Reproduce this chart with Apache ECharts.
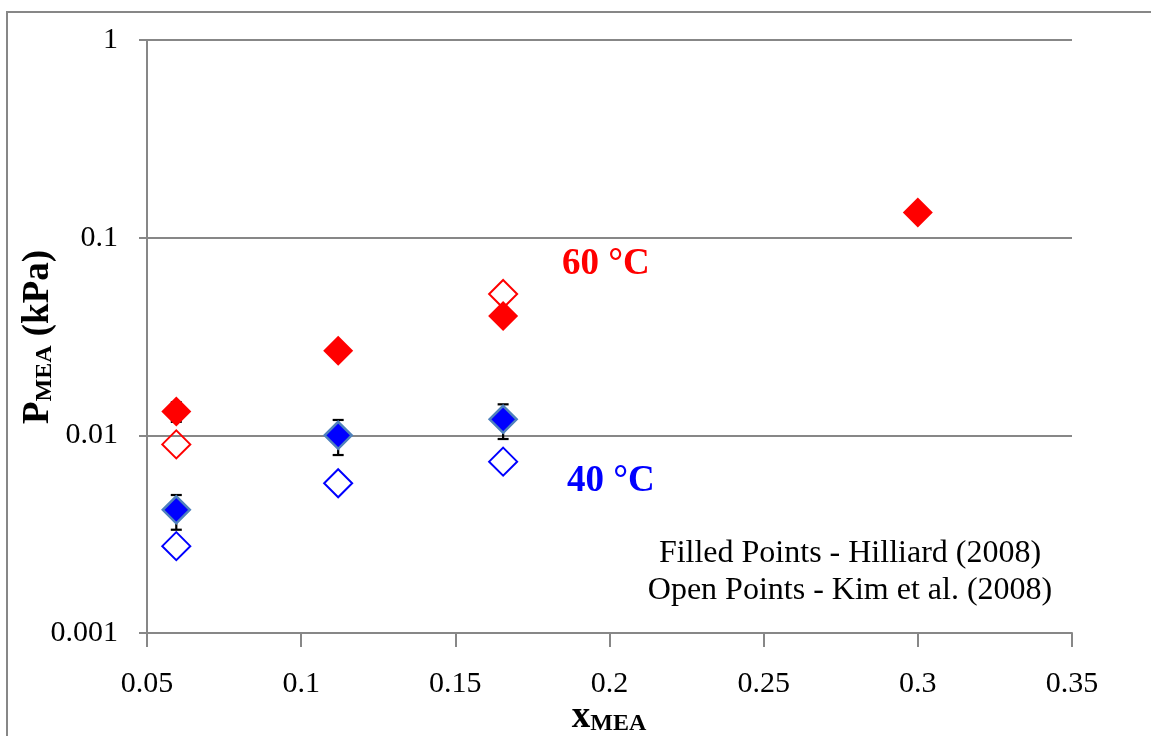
<!DOCTYPE html>
<html>
<head>
<meta charset="utf-8">
<script src="https://cdn.jsdelivr.net/npm/echarts@6/dist/echarts.min.js"></script>
<style>html,body{margin:0;padding:0;background:#fff}#c{width:1151px;height:736px}</style>
</head>
<body>
<div id="c"></div>
<script>
// ---- data ----
const xTicks = [0.05, 0.1, 0.15, 0.2, 0.25, 0.3, 0.35];
const yTicks = [0.001, 0.01, 0.1, 1];
const xRedFilled = [0.0595, 0.112, 0.1655, 0.300];
const yRedFilled = [0.0132, 0.0268, 0.0402, 0.134];
const xRedOpen = [0.0595, 0.1655];
const yRedOpen = [0.0090, 0.0519];
const xBlueFilled = [0.0595, 0.112, 0.1655];
const yBlueFilled = [0.0042, 0.0100, 0.01205];
const xBlueOpen = [0.0595, 0.112, 0.1655];
const yBlueOpen = [0.00275, 0.00572, 0.00736];
const errX = [0.0595, 0.0595, 0.112, 0.1655];
const errHigh = [0.0147, 0.00499, 0.01196, 0.01435];
const errLow = [0.0117, 0.00333, 0.00795, 0.00958];

const FONT = "'Liberation Serif','Times New Roman',serif";
const GRAY = '#878787';
const zip = (a, b) => a.map((v, i) => [v, b[i]]);

const chart = echarts.init(document.getElementById('c'), null, {renderer: 'canvas'});
chart.setOption({
  animation: false,
  backgroundColor: '#fff',
  grid: {left: 147, top: 40, right: 79, bottom: 103, containLabel: false},
  xAxis: {
    type: 'value', min: 0.05, max: 0.35, interval: 0.05,
    axisLine: {show: true, onZero: false, lineStyle: {color: GRAY, width: 2}},
    axisTick: {show: true, length: 14, lineStyle: {color: GRAY, width: 2}},
    splitLine: {show: false},
    axisLabel: {margin: 36, fontFamily: FONT, fontSize: 30, color: '#000',
      formatter: v => String(+v.toFixed(2))}
  },
  yAxis: {
    type: 'log', logBase: 10, min: 0.001, max: 1,
    axisLine: {show: true, lineStyle: {color: GRAY, width: 2}},
    axisTick: {show: true, length: 8, lineStyle: {color: GRAY, width: 2}},
    splitLine: {show: true, lineStyle: {color: GRAY, width: 2}},
    axisLabel: {margin: 29, fontFamily: FONT, fontSize: 30, color: '#000',
      formatter: v => String(+(+v).toPrecision(3))}
  },
  series: [
    {
      type: 'custom', z: 1,
      data: errX.map((x, i) => [x, errHigh[i], errLow[i]]),
      renderItem: function (params, api) {
        const hi = api.coord([api.value(0), api.value(1)]);
        const lo = api.coord([api.value(0), api.value(2)]);
        const w = 5.5;
        const st = {stroke: '#000', lineWidth: 2.2};
        return {type: 'group', children: [
          {type: 'line', shape: {x1: hi[0], y1: hi[1], x2: lo[0], y2: lo[1]}, style: st},
          {type: 'line', shape: {x1: hi[0]-w, y1: hi[1], x2: hi[0]+w, y2: hi[1]}, style: st},
          {type: 'line', shape: {x1: lo[0]-w, y1: lo[1], x2: lo[0]+w, y2: lo[1]}, style: st}
        ]};
      }
    },
    {
      name: 'Kim 60', type: 'scatter', z: 2, symbol: 'diamond', symbolSize: 28,
      data: zip(xRedOpen, yRedOpen),
      itemStyle: {color: 'rgba(255,255,255,0)', borderColor: '#ff0000', borderWidth: 2, opacity: 1}
    },
    {
      name: 'Kim 40', type: 'scatter', z: 2, symbol: 'diamond', symbolSize: 28,
      data: zip(xBlueOpen, yBlueOpen),
      itemStyle: {color: 'rgba(255,255,255,0)', borderColor: '#0000ff', borderWidth: 2, opacity: 1}
    },
    {
      name: 'Hilliard 60', type: 'scatter', z: 3, symbol: 'diamond', symbolSize: 30,
      data: zip(xRedFilled, yRedFilled),
      itemStyle: {color: '#ff0000', opacity: 1}
    },
    {
      name: 'Hilliard 40', type: 'scatter', z: 3, symbol: 'diamond', symbolSize: 27,
      data: zip(xBlueFilled, yBlueFilled),
      itemStyle: {color: '#0000ff', borderColor: '#4f81bd', borderWidth: 2.5, opacity: 1}
    }
  ],
  graphic: [
    {type: 'rect', z: -1, silent: true, shape: {x: 7, y: 12, width: 1300, height: 900},
      style: {fill: 'none', stroke: GRAY, lineWidth: 2}},
    {type: 'text', left: 562, top: 246, style: {text: '60 °C', fill: '#ff0000',
      font: "bold 37px 'Liberation Serif','Times New Roman',serif"}},
    {type: 'text', left: 567, top: 463, style: {text: '40 °C', fill: '#0000ff',
      font: "bold 37px 'Liberation Serif','Times New Roman',serif"}},
    {type: 'text', x: 850, y: 535, style: {text: 'Filled Points - Hilliard (2008)\nOpen Points - Kim et al. (2008)',
      fill: '#000', font: "32px 'Liberation Serif','Times New Roman',serif", align: 'center', verticalAlign: 'top', lineHeight: 37}},
    {type: 'text', x: 38, y: 337, rotation: Math.PI / 2,
      style: {text: '{a|P}{b|MEA}{a| (kPa)}', align: 'center', verticalAlign: 'middle',
        rich: {a: {fontFamily: FONT, fontWeight: 'bold', fontSize: 37, fill: '#000', color: '#000'},
               b: {fontFamily: FONT, fontWeight: 'bold', fontSize: 24, fill: '#000', color: '#000', padding: [14, 0, 0, 0]}}}},
    {type: 'text', x: 609, y: 717,
      style: {text: '{a|x}{b|MEA}', align: 'center', verticalAlign: 'middle',
        rich: {a: {fontFamily: FONT, fontWeight: 'bold', fontSize: 37, fill: '#000', color: '#000'},
               b: {fontFamily: FONT, fontWeight: 'bold', fontSize: 24, fill: '#000', color: '#000', padding: [14, 0, 0, 0]}}}}
  ]
});
</script>
</body>
</html>
